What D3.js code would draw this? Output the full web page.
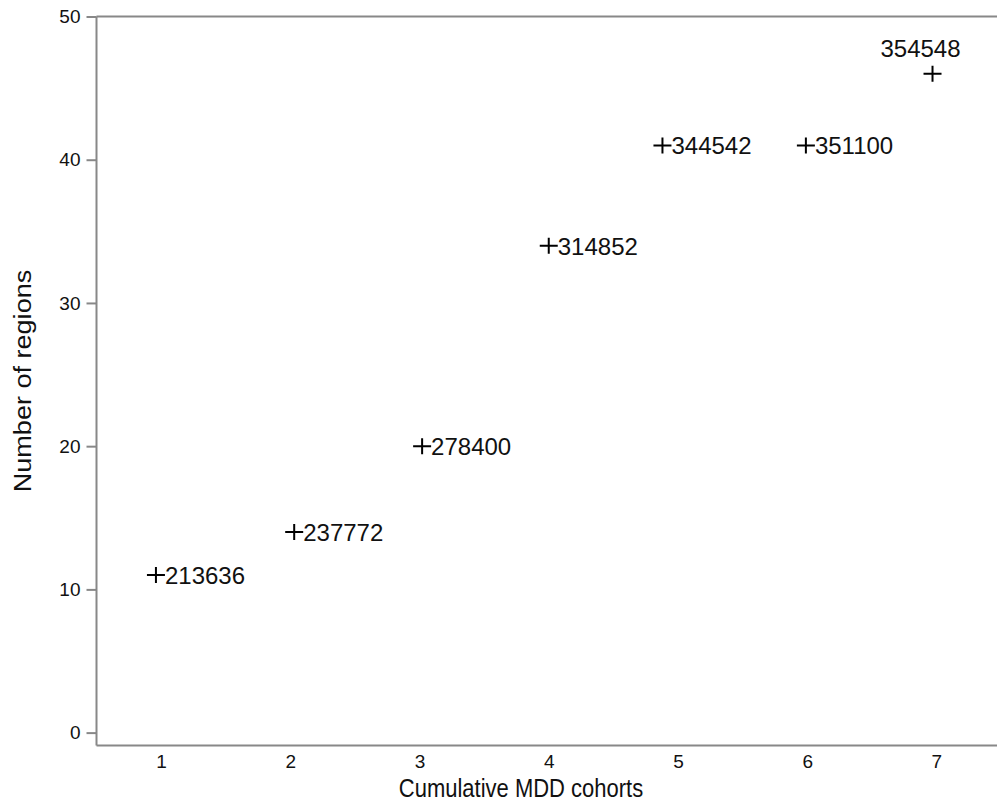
<!DOCTYPE html>
<html>
<head>
<meta charset="utf-8">
<script src="https://cdn.jsdelivr.net/npm/d3@7"></script>
<style>
  html, body { margin: 0; padding: 0; background: #fff; }
  svg { display: block; font-family: "Liberation Sans", Arial, Helvetica, sans-serif; }
</style>
</head>
<body>
<svg id="chart" width="997" height="809"></svg>
<script>
// Data (x positions are jittered cohort counts as plotted)
const cohortX = [0.96, 2.03, 3.02, 4.0, 4.88, 5.99, 6.97];
const regionCounts = [11, 14, 20, 34, 41, 41, 46];
const sampleLabels = ["213636", "237772", "278400", "314852", "344542", "351100", "354548"];
const labelPositions = ["right", "right", "right", "right", "right", "right", "top"];
const xTicks = [1, 2, 3, 4, 5, 6, 7];
const yTicks = [0, 10, 20, 30, 40, 50];

(function () {
const svg = d3.select("#chart");
const mLeft = 96.5, mRight = 1001, mTop = 16.5, mBottom = 745.5;
const axisColor = "#888888";

const x = d3.scaleLinear().domain([0.5, 7.5]).range([mLeft, mRight]);
const y = d3.scaleLinear().domain([-0.9, 50]).range([mBottom, mTop]);

// top border line
svg.append("line")
  .attr("x1", mLeft).attr("x2", 997)
  .attr("y1", y(50)).attr("y2", y(50))
  .attr("stroke", axisColor).attr("stroke-width", 2);

// Y axis
const yAxis = svg.append("g")
  .attr("transform", `translate(${mLeft},0)`)
  .call(d3.axisLeft(y).tickValues(yTicks).tickSize(10).tickPadding(6).tickFormat(d3.format("d")));
yAxis.select(".domain").attr("stroke", axisColor).attr("stroke-width", 2)
  .attr("d", `M0,${mTop}V${mBottom}`);
yAxis.selectAll(".tick line").attr("stroke", axisColor).attr("stroke-width", 2);
yAxis.selectAll(".tick text").attr("fill", "#111").style("font-size", "19px")
  .style("font-family", "Liberation Sans, Arial, sans-serif");

// X axis
const xAxis = svg.append("g")
  .attr("transform", `translate(0,${mBottom})`)
  .call(d3.axisBottom(x).tickValues(xTicks).tickSize(0).tickPadding(9).tickFormat(d3.format("d")));
xAxis.select(".domain").attr("stroke", axisColor).attr("stroke-width", 2)
  .attr("d", `M${mLeft},0H997`);
xAxis.selectAll(".tick text").attr("fill", "#111").style("font-size", "19px")
  .style("font-family", "Liberation Sans, Arial, sans-serif");

// Axis titles
svg.append("text")
  .attr("transform", "translate(521,797) scale(1,1.2)")
  .attr("text-anchor", "middle")
  .style("font-size", "22px").attr("fill", "#111")
  .text("Cumulative MDD cohorts");

svg.append("text")
  .attr("transform", `translate(31,${(mTop + mBottom) / 2}) rotate(-90) scale(1.23,1.1)`)
  .attr("text-anchor", "middle")
  .style("font-size", "22px").attr("fill", "#111")
  .text("Number of regions");

// Points (plus markers)
const pts = cohortX.map((cx, i) => ({ cx, cy: regionCounts[i], label: sampleLabels[i], pos: labelPositions[i] }));
const hw = 9, hh = 8;
const g = svg.append("g");
g.selectAll("path.pt").data(pts).join("path")
  .attr("class", "pt")
  .attr("d", d => {
    const px = x(d.cx), py = y(d.cy);
    return `M${px - hw},${py}H${px + hw}M${px},${py - hh}V${py + hh}`;
  })
  .attr("stroke", "#000").attr("stroke-width", 2).attr("fill", "none");

g.selectAll("text.lbl").data(pts).join("text")
  .attr("class", "lbl")
  .attr("x", d => d.pos === "top" ? x(d.cx) : x(d.cx) + hw)
  .attr("y", d => d.pos === "top" ? y(d.cy) - 17 : y(d.cy) + 9)
  .attr("dx", d => d.pos === "top" ? -12 : 0)
  .attr("text-anchor", d => d.pos === "top" ? "middle" : "start")
  .style("font-size", "24px").attr("fill", "#111")
  .text(d => d.label);
})();
</script>
</body>
</html>
